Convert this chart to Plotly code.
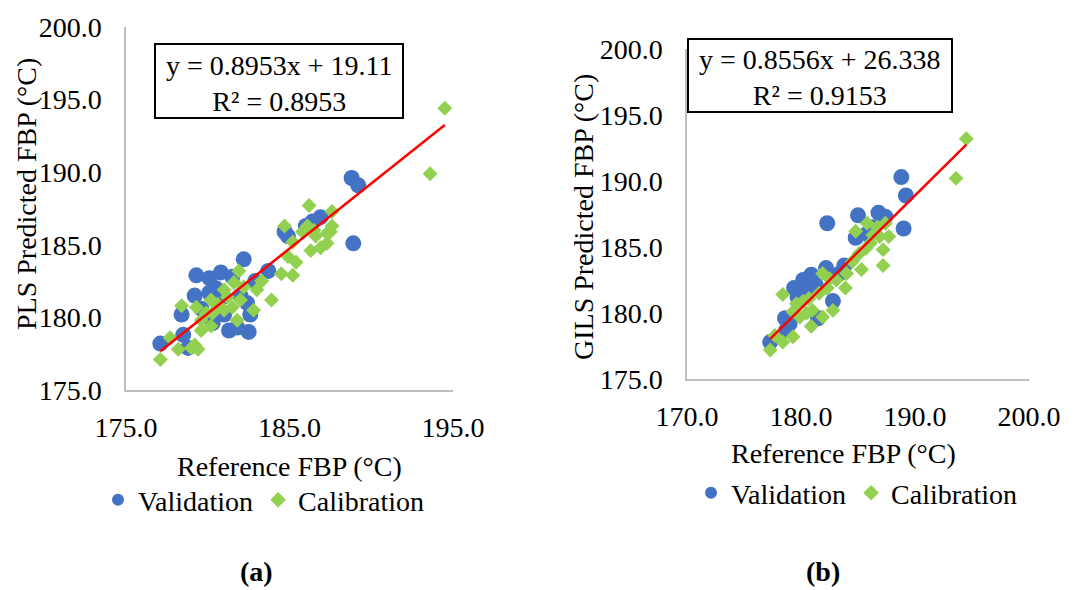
import plotly.graph_objects as go

W, H = 1077, 590
FONT = "Liberation Serif, Times New Roman, serif"
BLUE = "#4472C4"
GREEN = "#92D050"
AXIS = "#BFBFBF"

# ---- (a) PLS model ----
pls_val_x = [188.8, 189.2, 188.9, 186.9, 186.0, 184.7, 182.2, 183.7, 179.3, 180.1,
             180.8, 181.5, 182.9, 179.2, 180.1, 180.9, 178.4, 182.6, 182.4, 181.3,
             182.5, 181.8, 177.1, 178.5, 178.8, 179.6, 180.5, 181.0, 182.0, 180.3,
             186.4, 184.9]
pls_val_y = [189.6, 189.1, 185.1, 186.9, 186.3, 185.9, 184.0, 183.2, 182.9, 182.7,
             183.1, 182.8, 182.5, 181.5, 181.7, 181.4, 180.2, 180.2, 181.0, 179.1,
             179.0, 179.3, 178.2, 178.8, 177.9, 180.6, 182.0, 180.2, 181.5, 179.6,
             186.6, 185.6]
pls_cal_x = [194.5, 193.6, 186.2, 187.6, 184.7, 185.2, 186.1, 186.6, 187.3, 187.6,
             186.3, 186.9, 187.3, 187.5, 184.9, 185.4, 184.5, 185.2, 183.9, 181.9,
             183.3, 183.0, 178.4, 179.3, 180.2, 181.0, 181.6, 182.2, 182.8, 181.8,
             181.0, 180.3, 179.6, 180.2, 179.6, 181.5, 182.0, 177.7, 178.2, 179.2,
             179.4, 177.1, 180.6, 181.2, 179.9, 186.5, 185.8, 179.0]
pls_cal_y = [194.4, 189.9, 187.7, 187.3, 186.3, 185.2, 186.3, 185.6, 185.8, 186.3,
             184.6, 184.8, 185.1, 185.9, 184.2, 183.8, 183.0, 182.9, 181.2, 183.2,
             182.5, 181.9, 180.8, 180.7, 181.2, 181.9, 182.4, 182.1, 180.5, 179.8,
             180.5, 180.3, 179.8, 179.4, 179.1, 180.7, 181.2, 178.6, 177.8, 178.1,
             177.8, 177.1, 180.9, 181.4, 180.3, 186.0, 185.9, 177.9]
pls_slope, pls_intercept, pls_r2 = 0.8953, 19.11, 0.8953

# ---- (b) GILS model ----
gils_val_x = [188.8, 189.2, 189.0, 182.3, 185.0, 186.8, 187.4, 184.8, 185.8, 183.8,
              182.2, 182.8, 180.9, 180.2, 179.4, 180.5, 179.7, 181.3, 178.6, 181.5,
              177.3, 178.7, 183.4, 186.3, 180.6, 179.0]
gils_val_y = [190.3, 188.9, 186.4, 186.8, 187.4, 187.6, 187.3, 185.7, 186.0, 183.6,
              183.4, 180.9, 182.9, 182.5, 181.9, 181.9, 181.2, 182.1, 179.6, 179.6,
              177.8, 178.7, 183.0, 186.5, 182.3, 179.2]
gils_cal_x = [194.5, 193.6, 184.8, 185.8, 186.7, 187.4, 187.7, 186.9, 186.1, 187.2,
              185.1, 185.7, 187.2, 184.5, 185.3, 183.9, 183.1, 181.9, 178.4, 179.6,
              180.7, 181.6, 182.3, 180.5, 181.0, 180.9, 179.9, 179.3, 181.9, 182.8,
              179.3, 178.4, 177.7, 177.3, 184.0, 186.3, 182.5, 180.2]
gils_cal_y = [193.2, 190.2, 186.2, 186.8, 186.5, 186.8, 185.8, 185.8, 185.3, 184.8,
              184.5, 184.9, 183.6, 183.9, 183.3, 181.9, 182.5, 183.0, 181.4, 180.7,
              181.1, 181.5, 181.9, 180.0, 180.2, 179.0, 179.7, 180.1, 179.7, 180.2,
              178.2, 177.8, 178.3, 177.2, 183.0, 185.9, 182.6, 180.9]
gils_slope, gils_intercept, gils_r2 = 0.8556, 26.338, 0.9153


def trend(xs, slope, intercept):
    lo, hi = min(xs), max(xs)
    return [lo, hi], [slope * lo + intercept, slope * hi + intercept]


fig = go.Figure()

panels = [
    ("x", "y", "legend", pls_val_x, pls_val_y, pls_cal_x, pls_cal_y,
     pls_slope, pls_intercept),
    ("x2", "y2", "legend2", gils_val_x, gils_val_y, gils_cal_x, gils_cal_y,
     gils_slope, gils_intercept),
]
for xa, ya, lg, vx, vy, cx, cy, m, b in panels:
    fig.add_trace(go.Scatter(x=vx, y=vy, mode="markers", name="Validation",
                             xaxis=xa, yaxis=ya, legend=lg,
                             marker=dict(color=BLUE, size=16, symbol="circle")))
    fig.add_trace(go.Scatter(x=cx, y=cy, mode="markers", name="Calibration",
                             xaxis=xa, yaxis=ya, legend=lg,
                             marker=dict(color=GREEN, size=11.5, symbol="diamond")))
    tx, ty = trend(cx, m, b)
    fig.add_trace(go.Scatter(x=tx, y=ty, mode="lines", showlegend=False,
                             xaxis=xa, yaxis=ya,
                             line=dict(color="#FF0000", width=2.5)))


def px(v):
    return v / W


def py(v):
    return 1 - v / H


axis_common = dict(showgrid=False, zeroline=False, showline=True,
                   linecolor=AXIS, linewidth=1.5, ticks="", automargin=False,
                   tickformat=".1f", tickfont=dict(size=28))

fig.update_layout(
    width=W, height=H, margin=dict(l=0, r=0, t=0, b=0, autoexpand=False),
    paper_bgcolor="white", plot_bgcolor="white",
    font=dict(family=FONT, size=28, color="black"),
    xaxis=dict(domain=[px(126), px(453)], range=[175, 195],
               tickvals=[175, 185, 195], anchor="y",
               ticklabelstandoff=12, **axis_common),
    yaxis=dict(domain=[py(390), py(27)], range=[175, 200], dtick=5,
               anchor="x", ticklabelstandoff=17, **axis_common),
    xaxis2=dict(domain=[px(687), px(1029)], range=[170, 200],
                tickvals=[170, 180, 190, 200], anchor="y2",
                ticklabelstandoff=12, **axis_common),
    yaxis2=dict(domain=[py(379), py(49)], range=[175, 200], dtick=5,
                anchor="x2", ticklabelstandoff=17, **axis_common),
    legend=dict(orientation="h", x=px(264), y=py(500), xanchor="center",
                yanchor="middle", font=dict(size=28), itemsizing="constant",
                bgcolor="rgba(0,0,0,0)", tracegroupgap=0),
    legend2=dict(orientation="h", x=px(857), y=py(493), xanchor="center",
                 yanchor="middle", font=dict(size=28), itemsizing="constant",
                 bgcolor="rgba(0,0,0,0)", tracegroupgap=0),
    showlegend=True,
)

# Equation boxes
boxes = [
    (155, 44, 403, 118, pls_slope, pls_intercept, pls_r2, "{:.2f}"),
    (688, 39, 952, 112, gils_slope, gils_intercept, gils_r2, "{:.3f}"),
]
for x0, y0, x1, y1, m, b, r2, bfmt in boxes:
    fig.add_shape(type="rect", xref="paper", yref="paper",
                  x0=px(x0), x1=px(x1), y0=py(y1), y1=py(y0),
                  line=dict(color="black", width=2), fillcolor="white", layer="above")
    eq = f"y = {m:.4f}x + " + bfmt.format(b) + f"<br>R² = {r2:.4f}"
    fig.add_annotation(text=eq, xref="paper", yref="paper",
                       x=px((x0 + x1) / 2), y=py((y0 + y1) / 2 + 2),
                       xanchor="center", yanchor="middle", showarrow=False,
                       align="center", font=dict(size=28))

# Axis titles and panel labels
texts = [
    ("PLS Predicted FBP (°C)", 27, 194, -90, False),
    ("GILS Predicted FBP (°C)", 584, 217, -90, False),
    ("Reference FBP (°C)", 289, 466, 0, False),
    ("Reference FBP (°C)", 843, 453, 0, False),
    ("(a)", 256, 571, 0, True),
    ("(b)", 823, 571, 0, True),
]
for t, x, y, ang, bold in texts:
    fig.add_annotation(text=f"<b>{t}</b>" if bold else t, xref="paper", yref="paper",
                       x=px(x), y=py(y), xanchor="center", yanchor="middle",
                       textangle=ang, showarrow=False, font=dict(size=28))

fig.write_html("out.html")
